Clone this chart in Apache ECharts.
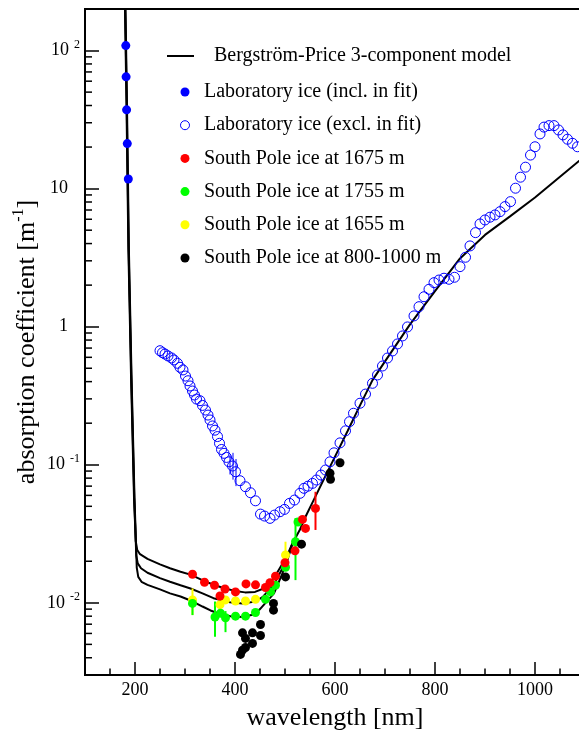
<!DOCTYPE html>
<html><head><meta charset="utf-8">
<script src="https://cdn.jsdelivr.net/npm/echarts@6/dist/echarts.min.js"></script>
<style>html,body{margin:0;padding:0;background:#fff}#c{width:579px;height:734px}</style>
</head><body><div id="c"></div>
<script>
// ---- axis ranges and tick values ----
const X_MIN = 100, X_MAX = 1100;
const Y_MIN = 0.003, Y_MAX = 200;
const xTickLabels = [200, 400, 600, 800, 1000];
const xMinorTicks = [150, 250, 300, 350, 450, 500, 550, 650, 700, 750, 850, 900, 950, 1050];
const yMinorTicks = [0.004, 0.005, 0.006, 0.007, 0.008, 0.009,
  0.02, 0.03, 0.04, 0.05, 0.06, 0.07, 0.08, 0.09,
  0.2, 0.3, 0.4, 0.5, 0.6, 0.7, 0.8, 0.9,
  2, 3, 4, 5, 6, 7, 8, 9,
  20, 30, 40, 50, 60, 70, 80, 90];

// ---- Bergström-Price 3-component model (three dust levels) ----
const modelUpperWl = [180, 183, 186.8, 192, 198, 201.5, 204.5, 210, 225, 250, 270, 291, 311, 340, 360, 380, 400, 420, 440, 460, 478, 491, 503, 515, 530, 541, 560, 580, 600, 625, 650, 675, 700, 725, 750, 800, 850, 900, 950, 1000, 1050, 1100];
const modelUpperAbs = [200, 40, 3.6, 0.45, 0.058, 0.028, 0.0241, 0.0225, 0.0208, 0.019, 0.0178, 0.0168, 0.016, 0.0143, 0.0134, 0.0127, 0.0122, 0.0119, 0.012, 0.0128, 0.0151, 0.0182, 0.0215, 0.027, 0.034, 0.042, 0.058, 0.0817, 0.1146, 0.175, 0.269, 0.41, 0.561, 0.764, 1.04, 1.81, 3.12, 4.62, 6.29, 8.62, 12.2, 17.2];
const modelMiddleWl = [180.5, 183.5, 187.3, 192.5, 198.5, 202.5, 205.5, 212, 225, 250, 270, 291, 311, 335, 357, 390, 415, 440, 455, 477, 495, 505, 515];
const modelMiddleAbs = [200, 40, 3.6, 0.45, 0.058, 0.022, 0.0193, 0.0178, 0.0165, 0.0151, 0.0142, 0.0134, 0.0127, 0.0117, 0.0108, 0.0101, 0.0099, 0.0102, 0.011, 0.0134, 0.0178, 0.021, 0.027];
const modelLowerWl = [181, 184, 187.8, 193, 199, 203.5, 206.5, 213, 225, 250, 270, 291, 311, 335, 351, 370, 391, 415, 435, 450, 478, 495, 505, 515];
const modelLowerAbs = [200, 40, 3.6, 0.45, 0.058, 0.018, 0.0154, 0.0142, 0.0135, 0.0125, 0.0117, 0.0111, 0.0104, 0.0094, 0.0088, 0.0083, 0.008, 0.0079, 0.0082, 0.009, 0.0117, 0.0164, 0.0205, 0.027];

// ---- laboratory ice ----
const labInclWl = [181.6, 182.2, 183.2, 184.6, 186.6];
const labInclAbs = [108.7, 64.5, 37.2, 21.2, 11.75];
const labExclWl = [250, 255, 260, 266, 273, 278, 285, 290, 296, 301, 306, 310, 315, 319, 323, 330, 335, 341, 346, 350, 355, 360, 365, 369, 373, 378, 383, 388, 395, 401, 410, 421, 431, 441, 451, 459, 470, 479, 490, 499, 509, 519, 530, 538, 546, 555, 563, 572, 581, 590, 598, 610, 621, 629, 637, 650, 661, 675, 685, 695, 705, 715, 725, 735, 745, 758, 768, 778, 788, 798, 808, 818, 828, 839, 850, 861, 870, 881, 890, 900, 910, 920, 930, 940, 951, 961, 971, 981, 991, 1000, 1010, 1018, 1028, 1038, 1047, 1056, 1065, 1075, 1085];
const labExclAbs = [0.670, 0.648, 0.634, 0.614, 0.594, 0.574, 0.543, 0.508, 0.486, 0.439, 0.406, 0.372, 0.342, 0.320, 0.299, 0.291, 0.269, 0.249, 0.229, 0.211, 0.191, 0.178, 0.160, 0.143, 0.129, 0.121, 0.113, 0.105, 0.0979, 0.0890, 0.0766, 0.0693, 0.0627, 0.0548, 0.0439, 0.0425, 0.0409, 0.0432, 0.0457, 0.0475, 0.0525, 0.0555, 0.0621, 0.0675, 0.0700, 0.0733, 0.0775, 0.0842, 0.0916, 0.105, 0.122, 0.144, 0.176, 0.205, 0.236, 0.279, 0.325, 0.389, 0.447, 0.519, 0.593, 0.667, 0.750, 0.857, 0.996, 1.197, 1.396, 1.648, 1.866, 2.084, 2.178, 2.244, 2.205, 2.280, 2.722, 3.183, 3.846, 4.80, 5.55, 5.93, 6.21, 6.45, 6.81, 7.41, 8.05, 10.07, 12.1, 14.3, 17.5, 20.1, 24.9, 27.9, 28.6, 28.6, 26.6, 24.5, 22.8, 21.3, 20.1];
const labExclErr = [[390, 0.085, 0.118], [396, 0.078, 0.122], [402, 0.070, 0.110]];

// ---- South Pole ice ----
const sp1675Wl = [315, 339, 359, 370, 380, 401, 422, 441, 461, 470, 481, 500, 520, 535, 541, 561];
const sp1675Abs = [0.0161, 0.0141, 0.0134, 0.0112, 0.0126, 0.0120, 0.0137, 0.0135, 0.0129, 0.0140, 0.0156, 0.0195, 0.0238, 0.0402, 0.0346, 0.0483];
const sp1675Err = [[561, 0.0337, 0.0637]];
const sp1755Wl = [315, 360, 371, 381, 401, 421, 441, 461, 471, 481, 501, 521, 526];
const sp1755Abs = [0.0099, 0.0079, 0.0084, 0.0078, 0.0080, 0.0080, 0.0085, 0.0106, 0.0120, 0.0134, 0.0181, 0.0277, 0.0385];
const sp1755Err = [[315, 0.00815, 0.0108], [360, 0.00567, 0.0102], [381, 0.00613, 0.00871], [521, 0.0146, 0.0411]];
const sp1655Wl = [315, 370, 381, 401, 421, 441, 501];
const sp1655Abs = [0.0105, 0.0097, 0.0105, 0.0103, 0.0103, 0.0106, 0.0222];
const sp1655Err = [[315, 0.00815, 0.0127], [501, 0.0182, 0.0277]];
const sp800Wl = [411, 415, 415, 421, 421, 435, 435, 451, 451, 477, 477, 501, 533, 590, 591, 610];
const sp800Abs = [0.00423, 0.00454, 0.00606, 0.00475, 0.00552, 0.00508, 0.00606, 0.00580, 0.00697, 0.00885, 0.00990, 0.0154, 0.0266, 0.0867, 0.0784, 0.1033];

// ---- names ----
const MODEL = 'Bergström-Price 3-component model';
const names = ['Laboratory ice (incl. in fit)', 'Laboratory ice (excl. in fit)', 'South Pole ice at 1675 m', 'South Pole ice at 1755 m', 'South Pole ice at 1655 m', 'South Pole ice at 800-1000 m'];

const FONT = '"Liberation Serif", "Times New Roman", serif';
const zip = (a, b) => a.map((v, i) => [v, b[i]]);

function modelSeries(wl, ab) {
  return { type: 'line', name: MODEL, data: zip(wl, ab), symbol: 'none', showSymbol: false,
    lineStyle: { color: '#000', width: 2 }, itemStyle: { color: '#000' }, z: 2, clip: true, silent: true };
}
function dots(name, wl, ab, color, empty) {
  return { type: 'scatter', name, data: zip(wl, ab), symbol: 'circle',
    symbolSize: empty ? 10 : 9,
    itemStyle: empty ? { color: 'rgba(0,0,0,0)', borderColor: color, borderWidth: 1, opacity: 1 } : { color, opacity: 1 },
    z: 4, silent: true };
}
function errBars(id, data, color, w) {
  return { type: 'custom', name: id, data, encode: { x: 0, y: [1, 2] }, z: 3, silent: true,
    renderItem: (p, api) => {
      const a = api.coord([api.value(0), api.value(1)]);
      const b = api.coord([api.value(0), api.value(2)]);
      return { type: 'line', shape: { x1: a[0], y1: a[1], x2: b[0], y2: b[1] }, style: { stroke: color, lineWidth: w } };
    } };
}

const chart = echarts.init(document.getElementById('c'), null, { renderer: 'canvas' });
chart.setOption({
  animation: false,
  backgroundColor: '#fff',
  grid: { left: 85, right: -6, top: 9, bottom: 59, show: true, borderColor: '#000', borderWidth: 2,
    backgroundColor: 'transparent', containLabel: false, outerBoundsMode: 'none' },
  graphic: [{
    type: 'text', x: 27, y: 342, rotation: Math.PI / 2, silent: true,
    style: { text: '{t|absorption coefficient [m}{s|-1}{t|]}', align: 'center', verticalAlign: 'middle',
      fill: '#000', font: '26px ' + FONT,
      rich: { t: { fontFamily: FONT, fontSize: 26, fill: '#000', lineHeight: 32 },
              s: { fontFamily: FONT, fontSize: 16, fill: '#000', lineHeight: 16, verticalAlign: 'top' } } }
  }],
  legend: [
    { data: [{ name: MODEL, icon: 'rect', itemStyle: { color: '#000', borderWidth: 0 } }],
      orient: 'vertical', left: 167, top: 46, padding: 0, itemWidth: 27, itemHeight: 2,
      selectedMode: false, formatter: n => '{g|}{t|' + n + '}',
      textStyle: { fontFamily: FONT, fontSize: 20, color: '#000', lineHeight: 20,
        rich: { g: { width: 15 }, t: { fontFamily: FONT, fontSize: 20, color: '#000', lineHeight: 20 } } } },
    { data: [
        { name: names[0], icon: 'circle', itemStyle: { color: '#0000ff', borderWidth: 0 } },
        { name: names[1], icon: 'circle', itemStyle: { color: 'rgba(0,0,0,0)', borderColor: '#0000ff', borderWidth: 1 } },
        { name: names[2], icon: 'circle', itemStyle: { color: '#ff0000', borderWidth: 0 } },
        { name: names[3], icon: 'circle', itemStyle: { color: '#00ff00', borderWidth: 0 } },
        { name: names[4], icon: 'circle', itemStyle: { color: '#ffff00', borderWidth: 0 } },
        { name: names[5], icon: 'circle', itemStyle: { color: '#000000', borderWidth: 0 } }
      ],
      orient: 'vertical', left: 180, top: 82, padding: 0, itemWidth: 28, itemHeight: 9, itemGap: 13.2,
      selectedMode: false,
      textStyle: { fontFamily: FONT, fontSize: 20, color: '#000', lineHeight: 20 } }
  ],
  xAxis: {
    type: 'value', min: X_MIN, max: X_MAX,
    axisLine: { show: true, onZero: false, lineStyle: { color: '#000', width: 2 } },
    axisTick: { show: true, inside: true, length: 13, lineStyle: { color: '#000', width: 1.5 } },
    minorTick: { show: false },
    axisLabel: { color: '#000', fontFamily: FONT, fontSize: 18, margin: 6, showMinLabel: false, showMaxLabel: false,
      formatter: v => xTickLabels.indexOf(v) >= 0 ? String(v) : '' },
    splitLine: { show: false },
    name: 'wavelength [nm]', nameLocation: 'middle', nameGap: 30,
    nameTextStyle: { fontFamily: FONT, fontSize: 26, color: '#000' }
  },
  yAxis: {
    type: 'log', logBase: 10, min: Y_MIN, max: Y_MAX,
    axisLine: { show: true, onZero: false, lineStyle: { color: '#000', width: 2 } },
    axisTick: { show: true, inside: true, length: 14, lineStyle: { color: '#000', width: 1.5 } },
    minorTick: { show: false },
    axisLabel: { color: '#000', fontFamily: FONT, margin: 5, showMinLabel: false, showMaxLabel: false,
      formatter: v => {
        const l = Math.log10(v), e = Math.round(l);
        if (Math.abs(l - e) > 1e-6) return '';
        if (e === 0) return '{b|1}{p|}';
        if (e === 1) return '{b|10}{p|}';
        return '{b|10}{s|' + e + '}';
      },
      rich: {
        b: { fontFamily: FONT, fontSize: 18, color: '#000', lineHeight: 24 },
        s: { fontFamily: FONT, fontSize: 12, color: '#000', lineHeight: 12, verticalAlign: 'top', padding: [0, 0, 0, 5] },
        p: { width: 12 }
      } },
    splitLine: { show: false }
  },
  series: [
    { type: 'custom', name: 'xMinor', data: xMinorTicks.map(v => [v, Y_MIN]), encode: { x: 0, y: 1 }, silent: true, z: 1,
      renderItem: (p, api) => { const c = api.coord([api.value(0), api.value(1)]);
        return { type: 'line', shape: { x1: c[0], y1: c[1], x2: c[0], y2: c[1] - 6.5 }, style: { stroke: '#000', lineWidth: 1.5 } }; } },
    { type: 'custom', name: 'yMinor', data: yMinorTicks.map(v => [X_MIN, v]), encode: { x: 0, y: 1 }, silent: true, z: 1,
      renderItem: (p, api) => { const c = api.coord([api.value(0), api.value(1)]);
        return { type: 'line', shape: { x1: c[0], y1: c[1], x2: c[0] + 7, y2: c[1] }, style: { stroke: '#000', lineWidth: 1.5 } }; } },
    modelSeries(modelUpperWl, modelUpperAbs),
    modelSeries(modelMiddleWl, modelMiddleAbs),
    modelSeries(modelLowerWl, modelLowerAbs),
    errBars('errExcl', labExclErr, '#0000ff', 1),
    errBars('err1655', sp1655Err, '#ffff00', 2),
    errBars('err1755', sp1755Err, '#00ff00', 2),
    errBars('err1675', sp1675Err, '#ff0000', 2),
    dots(names[1], labExclWl, labExclAbs, '#0000ff', true),
    dots(names[4], sp1655Wl, sp1655Abs, '#ffff00', false),
    dots(names[3], sp1755Wl, sp1755Abs, '#00ff00', false),
    dots(names[2], sp1675Wl, sp1675Abs, '#ff0000', false),
    dots(names[5], sp800Wl, sp800Abs, '#000000', false),
    dots(names[0], labInclWl, labInclAbs, '#0000ff', false)
  ]
});
</script></body></html>
